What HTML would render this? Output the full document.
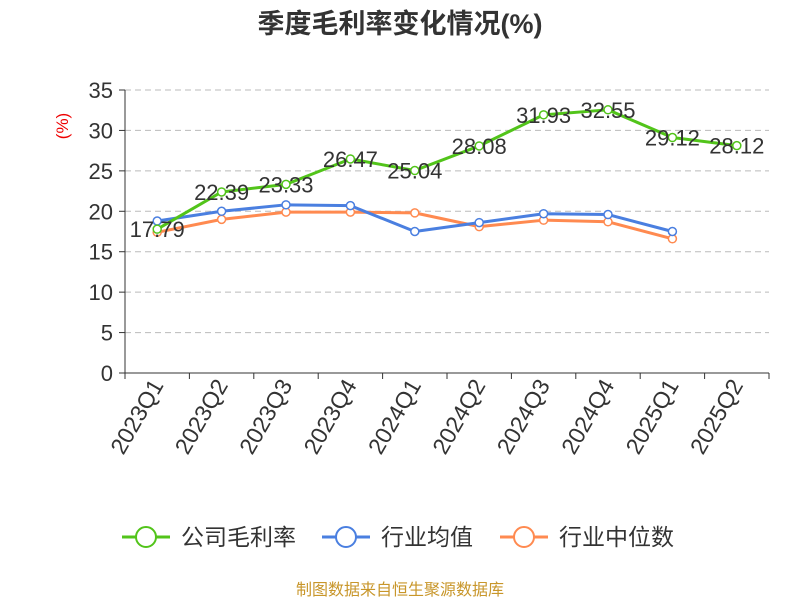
<!DOCTYPE html>
<html><head><meta charset="utf-8"><style>
body{margin:0;background:#fff;}
svg text{font-family:"Liberation Sans","Noto Sans CJK SC",sans-serif;}
</style></head><body>
<svg id="chart" width="800" height="600" xmlns="http://www.w3.org/2000/svg">
<text x="400" y="33" text-anchor="middle" font-size="27" font-weight="bold" fill="#333">季度毛利率变化情况(%)</text>
<text transform="translate(68,126) rotate(-90)" text-anchor="middle" font-size="17" fill="#e00">(%)</text>
<g id="grid"></g><g id="axes"></g><g id="series"></g>
<g>
<g><line x1="122" y1="537" x2="170" y2="537" stroke="#52c41a" stroke-width="3"/><circle cx="146" cy="537" r="10" fill="#fff" stroke="#52c41a" stroke-width="2"/><text x="181" y="545" font-size="23" fill="#333">公司毛利率</text></g>
<g><line x1="322" y1="537" x2="370" y2="537" stroke="#4a7fe0" stroke-width="3"/><circle cx="346" cy="537" r="10" fill="#fff" stroke="#4a7fe0" stroke-width="2"/><text x="381" y="545" font-size="23" fill="#333">行业均值</text></g>
<g><line x1="500" y1="537" x2="548" y2="537" stroke="#ff8a50" stroke-width="3"/><circle cx="524" cy="537" r="10" fill="#fff" stroke="#ff8a50" stroke-width="2"/><text x="559" y="545" font-size="23" fill="#333">行业中位数</text></g>
</g>
<text x="400" y="595" text-anchor="middle" font-size="16" fill="#c8962a">制图数据来自恒生聚源数据库</text>
</svg>
<script>
const categories=["2023Q1","2023Q2","2023Q3","2023Q4","2024Q1","2024Q2","2024Q3","2024Q4","2025Q1","2025Q2"];
const companyValues=[17.79,22.39,23.33,26.47,25.04,28.08,31.93,32.55,29.12,28.12];
const industryMean=[18.8,20.0,20.8,20.7,17.5,18.6,19.7,19.6,17.5];
const industryMedian=[17.4,19.0,19.9,19.9,19.8,18.1,18.9,18.7,16.6];
const yTicks=[0,5,10,15,20,25,30,35];
const NS="http://www.w3.org/2000/svg";
const L=125,R=769,T=90,B=373,yMax=35;
const bw=(R-L)/categories.length;
const x=i=>L+bw*(i+0.5);
const y=v=>B-(v/yMax)*(B-T);
function mk(tag,attrs,parent){const e=document.createElementNS(NS,tag);for(const k in attrs)e.setAttribute(k,attrs[k]);parent.appendChild(e);return e;}
const grid=document.getElementById('grid'),axes=document.getElementById('axes'),ser=document.getElementById('series');
yTicks.forEach(t=>{
 if(t>0){const g=mk('line',{x1:L,x2:R,y1:y(t),y2:y(t),stroke:'#bbb','stroke-dasharray':'6,4'},grid);
 
 }
 const tk=mk('line',{x1:L-6,x2:L,y1:y(t),y2:y(t),stroke:'#333'},axes);
 
 
 const tl=mk('text',{x:L-12,y:y(t)+8,'text-anchor':'end','font-size':22,fill:'#333'},axes);tl.textContent=t;
 
 
});
const ya=mk('line',{x1:L,x2:L,y1:T,y2:B,stroke:'#333'},axes);


const xa=mk('line',{x1:L,x2:R,y1:B,y2:B,stroke:'#333'},axes);


for(let i=0;i<=categories.length;i++){const tk=mk('line',{x1:L+bw*i,x2:L+bw*i,y1:B,y2:B+6,stroke:'#333'},axes);
 
 }
categories.forEach((c,i)=>{
 const t=mk('text',{transform:`translate(${x(i)+7},${B+12}) rotate(-60)`,'text-anchor':'end','font-size':23,fill:'#333'},axes);t.textContent=c;
 
 
});
function series(vals,color,name,labels){
 const p=mk('polyline',{points:vals.map((v,i)=>x(i)+','+y(v)).join(' '),fill:'none',stroke:color,'stroke-width':3,'stroke-linejoin':'round'},ser);
 
 
 vals.forEach((v,i)=>{
  const c=mk('circle',{cx:x(i),cy:y(v),r:4,fill:'#fff',stroke:color,'stroke-width':1.5},ser);
  
  
  if(labels){const t=mk('text',{x:x(i),y:y(v)+8,'text-anchor':'middle','font-size':22,fill:'#333'},ser);t.textContent=v.toFixed(2);
  
  }
 });
}
series(industryMedian,'#ff8a50','industry-median',false);
series(industryMean,'#4a7fe0','industry-mean',false);
series(companyValues,'#52c41a','company-margin',true);
</script>
</body></html>
